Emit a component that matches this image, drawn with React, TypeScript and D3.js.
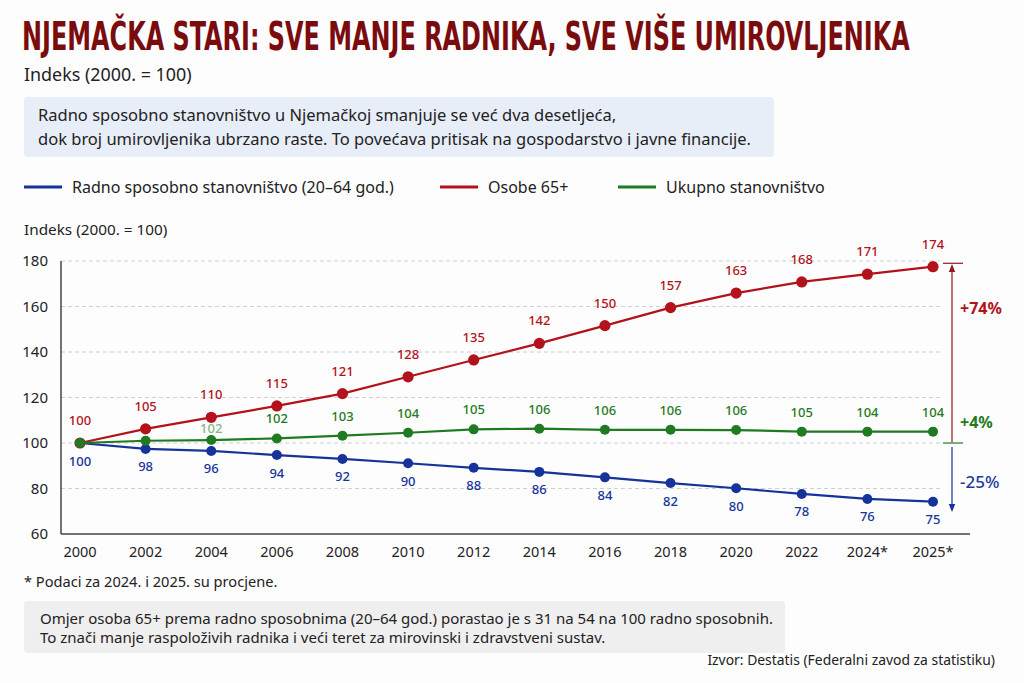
import { useLayoutEffect, useRef, useState } from "react";
import * as d3 from "d3";

const years = ["2000", "2002", "2004", "2006", "2008", "2010", "2012", "2014", "2016", "2018", "2020", "2022", "2024*", "2025*"];

// point positions as drawn, and the printed labels
const workingAge = [100, 97.4, 96.5, 94.7, 93.0, 91.1, 89.1, 87.3, 84.9, 82.4, 80.1, 77.6, 75.4, 74.2];
const workingAgeLabels = ["100", "98", "96", "94", "92", "90", "88", "86", "84", "82", "80", "78", "76", "75"];
const seniors = [100, 106.2, 111.3, 116.3, 121.7, 129.1, 136.5, 143.8, 151.6, 159.5, 165.9, 170.8, 174.2, 177.5];
const seniorLabels = ["100", "105", "110", "115", "121", "128", "135", "142", "150", "157", "163", "168", "171", "174"];
const total = [100, 101.0, 101.3, 102.0, 103.2, 104.5, 106.0, 106.3, 105.8, 105.8, 105.7, 105.0, 105.0, 105.0];
const totalLabels = [null, null, "102", "102", "103", "104", "105", "106", "106", "106", "106", "105", "104", "104"];

const yTicks = [60, 80, 100, 120, 140, 160, 180];
const changes = [
  { text: "+74%", value: 159, color: "#b3121a", weight: 700, size: 16 },
  { text: "+4%", value: 109, color: "#1f7a22", weight: 700, size: 16 },
  { text: "-25%", value: 83, color: "#1c3a9e", weight: 500, size: 17 },
];

const RED = "#b3121a";
const GREEN = "#1f7a22";
const BLUE = "#15339a";
const FONT = "'Noto Sans', 'Open Sans', sans-serif";

export default function App() {
  const width = 1024;
  const height = 683;
  const titleRef = useRef<SVGTextElement | null>(null);
  const [titleScale, setTitleScale] = useState(1);

  // squeeze the title to the reference width
  useLayoutEffect(() => {
    if (!titleRef.current) return;
    const w = titleRef.current.getComputedTextLength();
    if (w > 0) setTitleScale(888 / w);
  }, []);

  const x = d3.scalePoint<string>().domain(years).range([80, 933]);
  const y = d3.scaleLinear().domain([60, 180]).range([534, 261]);

  const line = d3
    .line<number>()
    .x((_, i) => x(years[i])!)
    .y((d) => y(d));

  const series = [
    { values: workingAge, labels: workingAgeLabels, color: BLUE, r: 5, dy: 17.5 },
    { values: seniors, labels: seniorLabels, color: RED, r: 5.6, dy: -23 },
    { values: total, labels: totalLabels, color: GREEN, r: 5, dy: -20 },
  ];

  const axisLeft = 61;
  const gridRight = 943;
  const axisRight = 970;
  const annX = 952;

  return (
    <svg
      width={width}
      height={height}
      style={{ position: "absolute", left: 0, top: 0, background: "#fdfdfd" }}
      fontFamily={FONT}
    >
      <defs>
        <marker id="arrRed" viewBox="0 0 10 10" refX="5" refY="5" markerWidth="7" markerHeight="7" orient="auto">
          <path d="M0,1 L10,5 L0,9 z" fill="#8e1a1e" />
        </marker>
        <marker id="arrBlue" viewBox="0 0 10 10" refX="5" refY="5" markerWidth="7" markerHeight="7" orient="auto">
          <path d="M0,1 L10,5 L0,9 z" fill={BLUE} />
        </marker>
      </defs>

      {/* Title */}
      <text
        ref={titleRef}
        transform={`translate(22,50) scale(${titleScale},1)`}
        fill="#7a0c0e"
        fontFamily="'Liberation Sans Narrow', 'DejaVu Sans Condensed', sans-serif"
        fontWeight={700}
        fontSize={39}
      >
        NJEMAČKA STARI: SVE MANJE RADNIKA, SVE VIŠE UMIROVLJENIKA
      </text>
      <text x={24} y={81} fontSize={17.9} fill="#222">Indeks (2000. = 100)</text>

      {/* Intro box */}
      <rect x={24} y={97} width={750} height={60} rx={4} fill="#e8eef8" />
      <text x={38} y={121} fontSize={16.5} fill="#222">
        Radno sposobno stanovništvo u Njemačkoj smanjuje se već dva desetljeća,
      </text>
      <text x={38} y={145} fontSize={16.5} fill="#222">
        dok broj umirovljenika ubrzano raste. To povećava pritisak na gospodarstvo i javne financije.
      </text>

      {/* Legend */}
      {[
        { label: "Radno sposobno stanovništvo (20–64 god.)", color: BLUE, x0: 24 },
        { label: "Osobe 65+", color: RED, x0: 440 },
        { label: "Ukupno stanovništvo", color: GREEN, x0: 618 },
      ].map((d) => (
        <g key={d.label}>
          <line x1={d.x0} x2={d.x0 + 38} y1={187} y2={187} stroke={d.color} strokeWidth={3} />
          <text x={d.x0 + 48} y={192.5} fontSize={16} fill="#222">{d.label}</text>
        </g>
      ))}

      {/* Axis title */}
      <text x={24} y={235} fontSize={15.3} fill="#222">Indeks (2000. = 100)</text>

      {/* Grid */}
      {yTicks.filter((t) => t > 60).map((t) => (
        <line key={t} x1={axisLeft} x2={gridRight} y1={y(t)} y2={y(t)} stroke="#cfcfcf" strokeDasharray="4,3" />
      ))}
      {yTicks.map((t) => (
        <text key={t} x={48} y={y(t)} dy="0.35em" textAnchor="end" fontSize={15} fill="#222">{t}</text>
      ))}

      {/* Axes */}
      <line x1={axisLeft} x2={axisLeft} y1={y(180)} y2={y(60)} stroke="#444" strokeWidth={1.5} />
      <line x1={axisLeft} x2={axisRight} y1={y(60)} y2={y(60)} stroke="#444" strokeWidth={1.5} />
      {years.map((yr) => (
        <text key={yr} x={x(yr)} y={557} textAnchor="middle" fontSize={14.5} fill="#222">{yr}</text>
      ))}

      {/* Series */}
      {series.map((s, si) => (
        <g key={si}>
          <path d={line(s.values)!} fill="none" stroke={s.color} strokeWidth={2.2} />
          {s.values.map((v, i) => (
            <circle key={i} cx={x(years[i])} cy={y(v)} r={s.r} fill={s.color} />
          ))}
        </g>
      ))}
      {series.map((s, si) => (
        <g key={"l" + si}>
          {s.labels.map((lab, i) =>
            lab == null ? null : (
              <text
                key={i}
                x={x(years[i])}
                y={y(s.values[i]) + (s.color === GREEN && i === 2 ? -12 : s.dy)}
                dominantBaseline="central"
                textAnchor="middle"
                fontSize={13}
                fontWeight={500}
                fill={s.color}
                opacity={s.color === GREEN && i === 2 ? 0.55 : 1}
              >
                {lab}
              </text>
            )
          )}
        </g>
      ))}

      {/* Change annotations */}
      <line x1={gridRight} x2={963} y1={y(179)} y2={y(179)} stroke="#8e1a1e" strokeWidth={1.2} />
      <line x1={gridRight} x2={963} y1={y(100)} y2={y(100)} stroke={GREEN} strokeWidth={1.2} />
      <line x1={annX} x2={annX} y1={y(100) - 1} y2={y(179) + 5} stroke="#8e1a1e" strokeWidth={1.2} markerEnd="url(#arrRed)" />
      <line x1={annX} x2={annX} y1={y(100) + 4} y2={y(71.5)} stroke={BLUE} strokeWidth={1.2} markerEnd="url(#arrBlue)" />
      {changes.map((c) => (
        <text key={c.text} x={960} y={y(c.value)} dy="0.35em" fontSize={c.size} fontWeight={c.weight} fill={c.color}>
          {c.text}
        </text>
      ))}

      {/* Footer */}
      <text x={24} y={587} fontSize={14.6} fill="#222">* Podaci za 2024. i 2025. su procjene.</text>
      <rect x={24} y={601} width={761} height={52} rx={4} fill="#efefef" />
      <text x={40} y={624} fontSize={15} fill="#222">
        Omjer osoba 65+ prema radno sposobnima (20–64 god.) porastao je s 31 na 54 na 100 radno sposobnih.
      </text>
      <text x={40} y={643} fontSize={15} fill="#222">
        To znači manje raspoloživih radnika i veći teret za mirovinski i zdravstveni sustav.
      </text>
      <text x={995} y={665} textAnchor="end" fontSize={13.9} fill="#222">
        Izvor: Destatis (Federalni zavod za statistiku)
      </text>
    </svg>
  );
}
